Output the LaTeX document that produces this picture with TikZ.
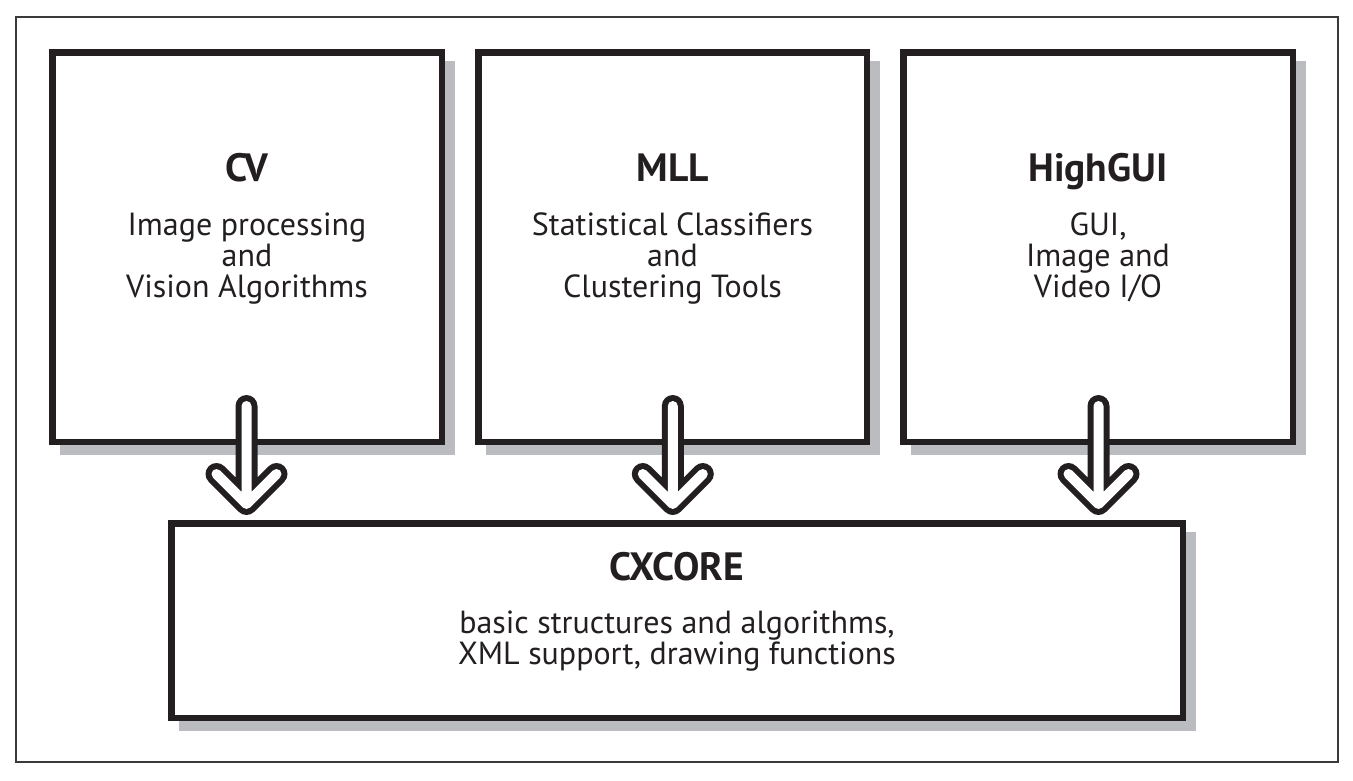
\documentclass[tikz,border=0pt]{standalone}
\usepackage{fontspec}
\setmainfont{PT Sans}
\usetikzlibrary{calc}
\pgfdeclarelayer{background}
\pgfsetlayers{background,main}
\definecolor{ink}{HTML}{231F20}
\definecolor{shadowgray}{HTML}{BBBCC0}
\definecolor{framec}{HTML}{3A3A3A}
% centred lines (separated by \cr), baseline at the first line
\newcommand{\lines}[1]{\vtop{\baselineskip=31pt\lineskiplimit=-100pt\lineskip=0pt\halign{\hfil##\hfil\cr#1\crcr}}}
\tikzset{
  box/.style={draw=ink, line width=6.5pt, fill=white, inner sep=0pt},
  txt/.style={anchor=base, inner sep=0pt, text=ink, font=\fontsize{32}{31}\selectfont},
  ttl/.style={anchor=base, inner sep=0pt, text=ink, font=\fontsize{39.5}{40}\selectfont\bfseries},
  arrowout/.style={draw=ink, line width=22pt, line cap=round, line join=round},
  arrowin/.style={draw=white, line width=10pt, line cap=round, line join=round},
}
\newcommand{\shadowof}[1]{\fill[shadowgray] ($(#1.north west)+(11,12)$) rectangle ($(#1.south east)+(10,10)$);}
\newcommand{\hollowarrow}[2]{%
  \coordinate (#1top) at (#2,406);
  \coordinate (#1tip) at (#2,504);
  \coordinate (#1wl) at (#2-30,474);
  \coordinate (#1wr) at (#2+30,474);
  \draw[arrowout] (#1top) -- (#1tip) (#1wl) -- (#1tip) -- (#1wr);
  \draw[arrowin] (#1top) -- (#1tip) (#1wl) -- (#1tip) -- (#1wr);
}
\begin{document}
\begin{tikzpicture}[x=1pt,y=-1pt]
\useasboundingbox (0,0) rectangle (1353,780);
\draw[framec, line width=2pt] (16,17) rectangle (1338,762);

\node[box, minimum width=389.5pt, minimum height=389.5pt] (cv) at (247,247) {};
\node[box, minimum width=388.5pt, minimum height=389.5pt] (mll) at (672.5,247) {};
\node[box, minimum width=389.5pt, minimum height=389.5pt] (hg) at (1098,247) {};
\node[box, minimum width=1011.5pt, minimum height=194.5pt] (core) at (677,620.5) {};

\begin{pgfonlayer}{background}
\shadowof{cv}
\shadowof{mll}
\shadowof{hg}
\shadowof{core}
\end{pgfonlayer}

\node[ttl] (cvT) at (247,181) {CV};
\node[txt] (cvD) at (247,235) {\lines{Image processing\cr and\cr Vision Algorithms}};

\node[ttl] (mllT) at (672.5,181) {MLL};
\node[txt] (mllD) at (672.5,235) {\lines{Statistical Classifiers\cr and\cr Clustering Tools}};

\node[ttl] (hgT) at (1098,181) {HighGUI};
\node[txt] (hgD) at (1098,235) {\lines{GUI,\cr Image and\cr Video I/O}};

\node[ttl] (coreT) at (677,580) {CXCORE};
\node[txt] (coreD) at (677,633) {\lines{basic structures and algorithms,\cr XML support, drawing functions}};

\hollowarrow{a}{246.5}
\hollowarrow{b}{672.8}
\hollowarrow{c}{1098.5}
\end{tikzpicture}
\end{document}
